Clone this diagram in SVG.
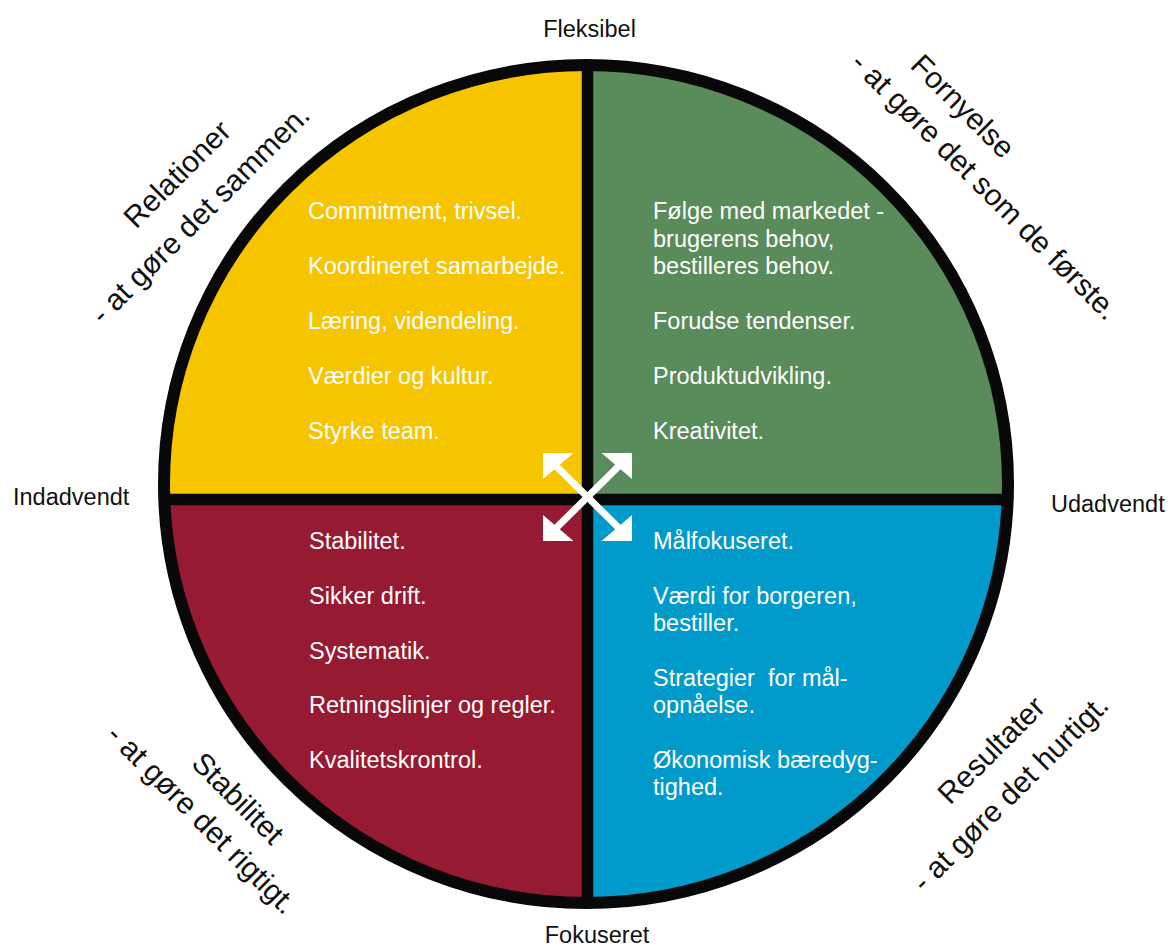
<svg xmlns="http://www.w3.org/2000/svg" width="1171" height="949" viewBox="0 0 1171 949">
<style>
.w{fill:#fff;font-family:"Liberation Sans",Arial,sans-serif;font-size:23.5px}
.k{fill:#111;font-family:"Liberation Sans",Arial,sans-serif;font-size:23.5px}
.r{fill:#111;font-family:"Liberation Sans",Arial,sans-serif;font-size:30px;text-anchor:middle}
.div{stroke:#080808;stroke-width:11.5}
.arr{fill:#fff}
</style>
<defs>
<clipPath id="cc"><ellipse cx="586" cy="484" rx="422" ry="419"/></clipPath>
</defs>
<rect width="1171" height="949" fill="#fff"/>
<g id="quadrants" clip-path="url(#cc)">
<rect id="q-yellow" x="0" y="0" width="587.5" height="499.5" fill="#F6C500"/>
<rect id="q-green" x="587.5" y="0" width="584" height="499.5" fill="#5A8B5A"/>
<rect id="q-red" x="0" y="499.5" width="587.5" height="450" fill="#961A31"/>
<rect id="q-blue" x="587.5" y="499.5" width="584" height="450" fill="#009ACB"/>
<line class="div" x1="587.5" y1="40" x2="587.5" y2="930"/>
<line class="div" x1="140" y1="499.5" x2="1030" y2="499.5"/>
</g>
<ellipse id="ring" cx="586" cy="484" rx="422" ry="419" fill="none" stroke="#080808" stroke-width="12"/>
<g id="connectors">
<line x1="545" y1="455" x2="630" y2="539" stroke="#fff" stroke-width="7"/>
<line x1="630" y1="455" x2="545" y2="539" stroke="#fff" stroke-width="7"/>
<polygon class="arr" points="543,453 573.5,453 543,479"/>
<polygon class="arr" points="632,453 601.5,453 632,479"/>
<polygon class="arr" points="543,541 573.5,541 543,515"/>
<polygon class="arr" points="632,541 601.5,541 632,515"/>
</g>
<g id="node-relationer">
<text class="w" x="308" y="219">Commitment, trivsel.</text>
<text class="w" x="308" y="274">Koordineret samarbejde.</text>
<text class="w" x="308" y="329">Læring, videndeling.</text>
<text class="w" x="308" y="384">Værdier og kultur.</text>
<text class="w" x="308" y="439">Styrke team.</text>
</g>
<g id="node-fornyelse">
<text class="w" x="653" y="219">Følge med markedet -</text>
<text class="w" x="653" y="246.5">brugerens behov,</text>
<text class="w" x="653" y="274">bestilleres behov.</text>
<text class="w" x="653" y="329">Forudse tendenser.</text>
<text class="w" x="653" y="384">Produktudvikling.</text>
<text class="w" x="653" y="439">Kreativitet.</text>
</g>
<g id="node-stabilitet">
<text class="w" x="309" y="549">Stabilitet.</text>
<text class="w" x="309" y="604">Sikker drift.</text>
<text class="w" x="309" y="659">Systematik.</text>
<text class="w" x="309" y="713">Retningslinjer og regler.</text>
<text class="w" x="309" y="768">Kvalitetskrontrol.</text>
</g>
<g id="node-resultater">
<text class="w" x="653" y="549">Målfokuseret.</text>
<text class="w" x="653" y="604">Værdi for borgeren,</text>
<text class="w" x="653" y="631">bestiller.</text>
<text class="w" x="653" y="686" xml:space="preserve">Strategier  for mål-</text>
<text class="w" x="653" y="713">opnåelse.</text>
<text class="w" x="653" y="768">Økonomisk bæredyg-</text>
<text class="w" x="653" y="795">tighed.</text>
</g>
<g id="axis-labels">
<text class="k" x="589.5" y="37" text-anchor="middle">Fleksibel</text>
<text class="k" x="13" y="505">Indadvendt</text>
<text class="k" x="1051" y="512">Udadvendt</text>
<text class="k" x="597" y="943" text-anchor="middle">Fokuseret</text>
</g>
<g id="label-relationer">
<text class="r" transform="translate(178,175) rotate(-45)" y="9">Relationer</text>
<text class="r" transform="translate(201,215) rotate(-45)" y="9">- at gøre det sammen.</text>
</g>
<g id="label-fornyelse">
<text class="r" transform="translate(962,107) rotate(45)" y="9">Fornyelse</text>
<text class="r" transform="translate(984,187) rotate(45)" y="9">- at gøre det som de første.</text>
</g>
<g id="label-stabilitet">
<text class="r" transform="translate(237,799) rotate(45)" y="9">Stabilitet</text>
<text class="r" transform="translate(201,820) rotate(45)" y="9">- at gøre det rigtigt.</text>
</g>
<g id="label-resultater">
<text class="r" transform="translate(992,751) rotate(-45)" y="9">Resultater</text>
<text class="r" transform="translate(1011,794) rotate(-45)" y="9">- at gøre det hurtigt.</text>
</g>
</svg>
